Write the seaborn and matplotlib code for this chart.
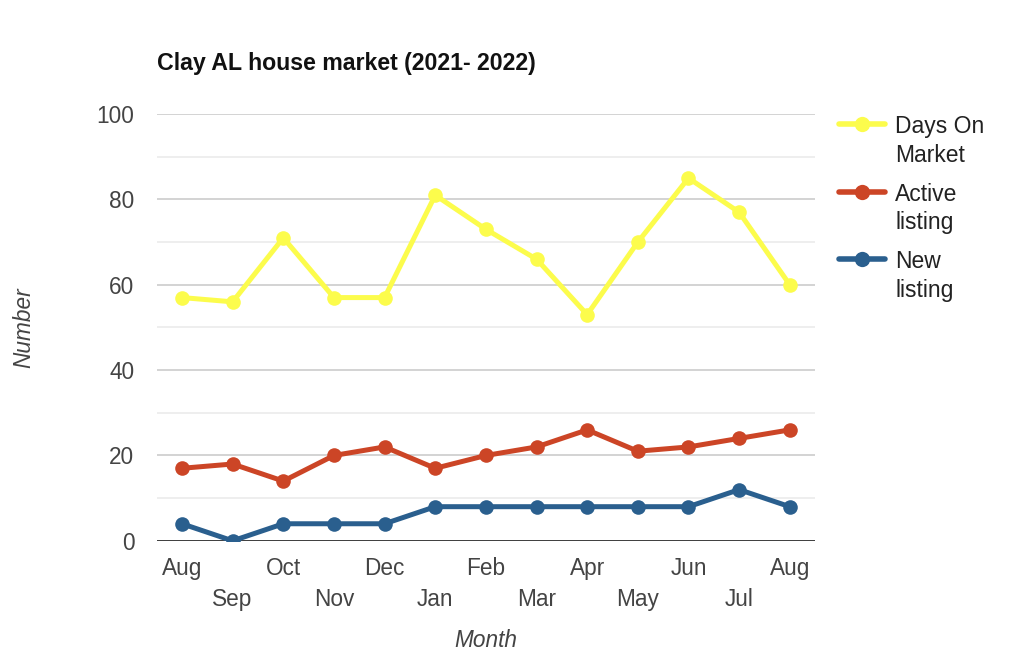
import pandas as pd
import numpy as np
import matplotlib
matplotlib.use("Agg")
import matplotlib.pyplot as plt
import seaborn as sns
from matplotlib.legend_handler import HandlerLine2D

# Data
months = ['Aug', 'Sep', 'Oct', 'Nov', 'Dec', 'Jan', 'Feb', 'Mar', 'Apr', 'May', 'Jun', 'Jul', 'Aug']
days_on_market = [57, 56, 71, 57, 57, 81, 73, 66, 53, 70, 85, 77, 60]
active_listing = [17, 18, 14, 20, 22, 17, 20, 22, 26, 21, 22, 24, 26]
new_listing = [4, 0, 4, 4, 4, 8, 8, 8, 8, 8, 8, 12, 8]
series_names = ['Days On\nMarket', 'Active\nlisting', 'New\nlisting']
colors = ['#fcfc4c', '#cc4526', '#2a5f8e']


class TopAlignedHandler(HandlerLine2D):
    # put the legend line next to the first line of a two-line label
    def __init__(self, shift, **kw):
        super().__init__(**kw)
        self.shift = shift

    def create_artists(self, legend, orig_handle, xdescent, ydescent,
                       width, height, fontsize, trans):
        arts = super().create_artists(legend, orig_handle, xdescent, ydescent,
                                      width, height, fontsize, trans)
        for a in arts:
            a.set_ydata(np.asarray(a.get_ydata(), dtype=float) + self.shift)
        return arts


def build_frame():
    rows = []
    for name, vals in zip(series_names, [days_on_market, active_listing, new_listing]):
        for i, v in enumerate(vals):
            rows.append({'idx': i, 'value': v, 'series': name})
    return pd.DataFrame(rows)


def main():
    sns.set_style('white')
    plt.rcParams['font.family'] = ['Liberation Sans', 'DejaVu Sans']

    df = build_frame()
    fig = plt.figure(figsize=(10.24, 6.71), dpi=100)
    ax = fig.add_axes([0.153, 0.194, 0.643, 0.636])

    sns.lineplot(data=df, x='idx', y='value', hue='series', hue_order=series_names,
                 palette=colors, marker='o', markersize=10.5, markeredgewidth=0,
                 linewidth=3.6, ax=ax, zorder=3)

    ax.set_xlim(-0.5, 12.5)
    ax.set_ylim(0, 100)
    ax.set_yticks(np.arange(0, 101, 20))
    ax.set_yticks(np.arange(10, 100, 20), minor=True)
    ax.grid(axis='y', which='major', color='#cccccc', linewidth=1.2, zorder=0)
    ax.grid(axis='y', which='minor', color='#ebebeb', linewidth=1.2, zorder=0)
    ax.axhline(0, color='#333333', linewidth=1.3, zorder=2)
    for s in ['left', 'right', 'top', 'bottom']:
        ax.spines[s].set_visible(False)

    tick_fs = 16.3
    ax.set_xticks(range(len(months)))
    labels = [m if i % 2 == 0 else '\n' + m for i, m in enumerate(months)]
    ax.set_xticklabels(labels, fontsize=tick_fs, color='#444444', linespacing=1.45)
    ax.tick_params(axis='y', which='both', labelsize=tick_fs, labelcolor='#444444', length=0, pad=16)
    ax.tick_params(axis='x', length=0, pad=11.5)

    ax.set_xlabel('Month', fontsize=tick_fs, style='italic', color='#444444', labelpad=13)
    ax.set_ylabel('Number', fontsize=tick_fs, style='italic', color='#444444', labelpad=44)

    fig.text(0.153, 0.906, 'Clay AL house market (2021- 2022)', fontsize=16.7,
             fontweight='bold', color='#111111', va='center')

    handles, lbls = ax.get_legend_handles_labels()
    leg = ax.legend(handles, lbls, loc='upper left', bbox_to_anchor=(1.005, 1.045),
                    frameon=False, fontsize=16.5, handlelength=2.0, handletextpad=0.45,
                    labelspacing=0.7, labelcolor='#222222',
                    handler_map={h: TopAlignedHandler(13.0) for h in handles})
    for h in leg.legend_handles:
        h.set_linewidth(4.0)
        h.set_markersize(11)
    for t in leg.get_texts():
        t.set_linespacing(1.3)

    fig.savefig('out.png', dpi=100)


if __name__ == "__main__":
    main()
